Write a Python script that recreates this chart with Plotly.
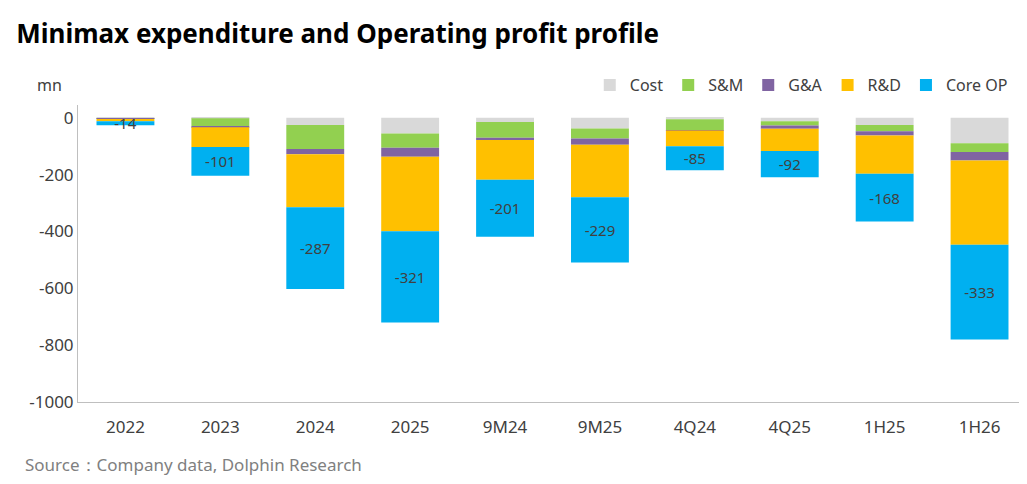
import plotly.graph_objects as go

periods = ['2022', '2023', '2024', '2025', '9M24', '9M25', '4Q24', '4Q25', '1H25', '1H26']
cost = [-1, -2, -25, -55, -15, -38, -5, -12, -25, -90]
sm = [-2, -28, -85, -50, -55, -35, -38, -15, -22, -30]
ga = [-1, -3, -18, -32, -8, -22, -2, -12, -15, -30]
rd = [-8, -70, -187, -262, -140, -185, -55, -78, -135, -297]
core_op = [-14, -101, -287, -321, -201, -229, -85, -92, -168, -333]
y_ticks = [0, -200, -400, -600, -800, -1000]

fig = go.Figure()
series = [('Cost', cost, '#D9D9D9'), ('S&M', sm, '#92D050'), ('G&A', ga, '#8064A2'),
          ('R&D', rd, '#FFC000'), ('Core OP', core_op, '#00B0F0')]
for name, vals, color in series:
    fig.add_trace(go.Bar(
        x=periods, y=vals, name=name, marker_color=color, marker_line_width=0,
        text=[str(v) for v in vals] if name == 'Core OP' else None,
        textposition='inside', insidetextanchor='middle',
        textfont=dict(color='#404040', size=15),
    ))

fig.update_layout(
    barmode='relative', bargap=0.39,
    width=1027, height=484,
    margin=dict(l=70, r=8, t=97, b=90),
    plot_bgcolor='white', paper_bgcolor='white',
    font=dict(family='Noto Sans, DejaVu Sans', color='#404040', size=16),
    uniformtext=dict(minsize=15, mode='show'),
    title=dict(text='<b>Minimax expenditure and Operating profit profile</b>',
               x=0.008, xanchor='left', y=0.965, yanchor='top',
               font=dict(size=26, color='black')),
    legend=dict(orientation='h', x=0.985, xanchor='right', y=1.01, yanchor='bottom',
                font=dict(size=16, color='#404040'), traceorder='normal',
                itemwidth=30),
)
fig.update_yaxes(range=[-1000, 45], tickvals=y_ticks, ticktext=[str(v) for v in y_ticks],
                 showgrid=False, zeroline=False, showline=True, linecolor='#BFBFBF',
                 tickfont=dict(size=17))
fig.update_xaxes(showline=True, linecolor='#BFBFBF', tickfont=dict(size=17),
                 ticklabelstandoff=10)
fig.add_annotation(text='mn', xref='paper', yref='paper', x=-0.045, y=1.11,
                   showarrow=False, font=dict(size=16, color='#404040'))
fig.add_annotation(text='Source：Company data, Dolphin Research', xref='paper', yref='paper',
                   x=-0.058, xanchor='left', y=-0.21, yanchor='middle', showarrow=False,
                   font=dict(size=17, color='#808080'))
fig.write_html('out.html')
